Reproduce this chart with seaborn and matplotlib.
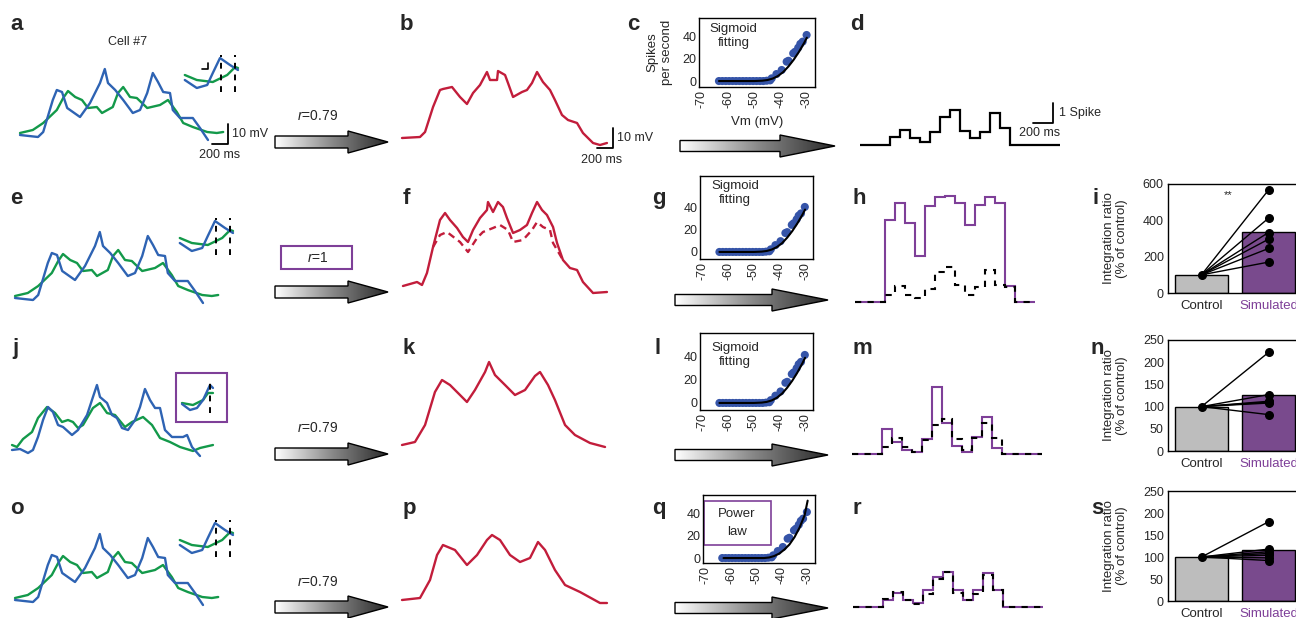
import numpy as np
import matplotlib
matplotlib.use("Agg")
import matplotlib.pyplot as plt
import seaborn as sns
from matplotlib.patches import Polygon, Rectangle
from matplotlib.colors import LinearSegmentedColormap

# ---------------- data ----------------
# recorded traces (panels a, e, o): time (ms), Vm (mV above baseline)
t_blue = [0, 225, 290, 410, 460, 525, 590, 750, 875, 1000, 1060, 1100, 1190, 1290, 1410,
          1500, 1590, 1660, 1725, 1790, 1875, 1910, 2000, 2160, 2250, 2350]
v_blue = [2.5, 1.5, 4, 20, 25, 24, 16, 11.5, 18.5, 28.5, 35.5, 28.5, 25, 20, 13.5,
          15, 23.5, 33.5, 29, 24, 23.5, 15, 11, 11, 6, 0]
t_green = [0, 160, 290, 460, 540, 600, 690, 775, 850, 960, 1025, 1160, 1225, 1290, 1375,
           1460, 1590, 1750, 1850, 1960, 2040, 2160, 2340, 2460, 2540]
v_green = [3.5, 5, 8.5, 15, 21, 24.5, 21.5, 20, 16, 16.5, 13.5, 16.5, 23.5, 26.5, 21.5,
           21, 16, 17.5, 20, 14, 8.5, 6.5, 4, 3.5, 4]
# insets (overlap of the two traces)
t_ins_blue = [2060, 2210, 2340, 2410, 2500, 2625, 2725]
v_ins_blue = [30, 26, 27.5, 33.5, 41, 37.5, 35]
t_ins_green = [2060, 2210, 2410, 2590, 2690, 2725]
v_ins_green = [32.5, 30, 29, 32.5, 36.5, 36]

# panel j traces (shifted green)
t_blue_j = [0, 100, 200, 262, 325, 388, 450, 512, 575, 638, 750, 825, 938, 1012, 1062, 1100,
            1188, 1250, 1312, 1375, 1450, 1538, 1600, 1662, 1725, 1788, 1850, 1912, 2000,
            2138, 2188, 2250, 2350]
v_blue_j = [3, 3.5, 1.5, 3, 9.5, 18, 24.5, 22, 15.5, 14.5, 10.5, 13, 20.5, 29.5, 35.5, 29.5,
            26.5, 20.5, 19, 14, 13, 18, 24.5, 33.5, 28, 24, 24, 13, 9.5, 9.5, 10.5, 4.5, 0]
t_green_j = [0, 62, 138, 250, 325, 438, 538, 625, 700, 762, 825, 888, 1012, 1100, 1188, 1288,
             1412, 1500, 1638, 1750, 1850, 1975, 2100, 2262, 2350, 2512]
v_green_j = [5.5, 4.5, 8.5, 12, 19, 24.5, 21.5, 17, 18, 17, 14, 15.5, 24, 26.5, 21.5, 20.5,
             14.5, 17, 19.5, 15.5, 9, 7, 4.5, 2.5, 4, 5.5]
t_ins_blue_j = [2125, 2225, 2312, 2388, 2475, 2512]
v_ins_blue_j = [26, 23, 24, 28, 35.5, 34]
t_ins_green_j = [2125, 2262, 2388, 2450, 2512]
v_ins_green_j = [26.5, 25.5, 28, 31.5, 31.5]

# combined (summed) traces: b, f, k, p
t_b = [0, 225, 288, 388, 475, 512, 625, 725, 812, 888, 975, 1062, 1100, 1188, 1200, 1288, 1325,
       1388, 1500, 1562, 1625, 1688, 1762, 1850, 1912, 2000, 2075, 2188, 2262, 2388, 2475, 2562]
v_b = [5, 5.5, 8, 20.5, 29, 29.5, 30.5, 25.5, 22, 27.5, 31.5, 38, 34, 34, 38.5, 36.5, 32.5,
       25.5, 28, 29, 32.5, 38, 33, 29, 24, 16.5, 14, 12.5, 7.5, 2.5, 1.5, 2.5]
t_f = [12, 188, 250, 312, 388, 475, 538, 600, 688, 762, 825, 888, 975, 1062, 1075, 1138, 1200,
       1262, 1312, 1388, 1475, 1562, 1625, 1688, 1750, 1812, 1888, 1938, 2012, 2100, 2188, 2262,
       2388, 2562]
v_f = [5, 7, 5.5, 11.5, 24.5, 38, 41.5, 38, 34, 29.5, 27, 33, 39, 43, 47, 42, 47, 44.5, 39,
       31.5, 33, 35.5, 41.5, 47, 43, 40.5, 34.5, 26.5, 18, 14, 13, 7, 1.5, 2]
t_f_dash = [388, 475, 562, 725, 825, 938, 1012, 1138, 1225, 1325, 1388, 1512, 1625, 1688, 1762,
            1850, 1888, 2012]
v_f_dash = [24.5, 30.5, 32, 27, 22, 29, 32, 34, 35.5, 33, 27, 28, 33, 37, 34.5, 33, 26.5, 18]
t_k = [0, 162, 288, 412, 500, 600, 725, 812, 912, 1038, 1088, 1162, 1288, 1412, 1538, 1662,
       1725, 1825, 1912, 2038, 2162, 2350, 2538]
v_k = [2.5, 4, 12.5, 29, 35, 32.5, 27.5, 24, 30, 39, 44, 37.5, 32.5, 27.5, 30, 37, 39, 32.5,
       25, 12.5, 7.5, 3.5, 1.5]
t_p = [0, 225, 350, 438, 512, 662, 812, 938, 1062, 1125, 1225, 1350, 1475, 1600, 1700, 1788,
       1912, 2038, 2225, 2475, 2562]
v_p = [3, 4, 13, 25.5, 30.5, 28, 20.5, 25.5, 33, 35.5, 33, 25.5, 22, 24, 32, 28, 18, 10.5, 7,
       1.5, 1.5]

# input-output curve (c, g, l, q)
vm_pts = [-63.5, -62.2, -60.9, -59.6, -58.3, -57.0, -55.7, -54.4, -53.1, -51.8, -50.5, -49.2,
          -47.9, -46.6, -45.3, -44.0, -43.4, -41.6, -39.6, -37.7, -37.0, -35.2, -34.5, -33.3,
          -32.5, -31.6, -30.1]
rate_pts = [0, 0, 0, 0, 0, 0, 0, 0, 0, 0, 0, 0, 0, 0, 0.3, 0.6, 2.4, 6.2, 9.8, 17.2, 18, 24.6,
            26, 29.6, 33, 35, 40.9]
vm_sig = [-63.5, -50, -47, -45, -43, -41, -39, -37, -35, -33, -31, -30]
rate_sig = [0, 0, 0.3, 0.9, 2.2, 4.5, 8, 13, 19, 26, 34, 38.5]
vm_pow = [-63, -47, -45, -43, -41, -39, -37, -35, -33, -31, -29.8]
rate_pow = [0, 0, 0.5, 1.8, 4, 7.5, 12, 18.5, 27, 38, 51]
vm_ticks = [-70, -60, -50, -40, -30]
rate_ticks = [0, 20, 40]

# spike output per 100-ms bin
rate_d = [0, 0, 0, 0.37, 0.72, 0.32, 0.16, 0.64, 1.37, 1.69, 0.69, 0.32, 0.64, 1.53, 0.81,
          0, 0, 0, 0, 0]
rate_h_sim = [0, 0, 0, 3.95, 4.77, 3.8, 2.2, 4.62, 5.06, 5.1, 4.77, 3.7, 4.67, 5.06, 4.77, 0.76,
              0, 0]
rate_h_ctl = [0, 0, 0, 0.32, 0.76, 0.32, 0.19, 0.64, 1.45, 1.69, 0.81, 0.32, 0.72, 1.53, 0.81,
              0.72, 0, 0]
rate_m_sim = [0, 0, 0, 1.19, 0.6, 0.19, 0.11, 0.71, 3.22, 1.48, 0.39, 0.11, 0.84, 1.77, 0.27,
              0, 0, 0, 0]
rate_m_ctl = [0, 0, 0, 0.35, 0.76, 0.32, 0.11, 0.68, 1.4, 1.68, 0.71, 0.19, 0.76, 1.51, 0.76,
              0, 0, 0, 0]
rate_r_sim = [0, 0, 0, 0.34, 0.68, 0.34, 0.2, 0.82, 1.45, 1.7, 0.82, 0.34, 0.82, 1.64, 0.82,
              0, 0, 0, 0]
rate_r_ctl = [0, 0, 0, 0.37, 0.72, 0.32, 0.16, 0.64, 1.37, 1.69, 0.69, 0.32, 0.64, 1.53, 0.81,
              0, 0, 0, 0]

# integration ratio (% of control)
groups = ["Control", "Simulated"]
ratio_i = [567, 412, 333, 296, 245, 170]
ratio_n = [222, 127, 112, 110, 108, 82]
ratio_s = [180, 118, 112, 108, 104, 98, 92]

# ---------------- style ----------------
sns.set_theme(style="white")
plt.rcParams["font.family"] = ["Liberation Sans", "DejaVu Sans"]
plt.rcParams["axes.unicode_minus"] = False
plt.rcParams["mathtext.fontset"] = "custom"
plt.rcParams["mathtext.it"] = "Liberation Sans:italic"
plt.rcParams["mathtext.rm"] = "Liberation Sans"
plt.rcParams["axes.edgecolor"] = "black"

BLUE = "#2e63b3"
GREEN = "#13994a"
RED = "#c21d3b"
PURPLE = "#7e3f98"
DOT = "#3554a8"
GRAY = "#bdbdbd"

W, H = 1296, 618
fig = plt.figure(figsize=(W / 100, H / 100), dpi=100)

ov = fig.add_axes([0, 0, 1, 1])
ov.set_xlim(0, W)
ov.set_ylim(H, 0)
ov.axis("off")


def px_ax(x0, y0, x1, y1):
    return fig.add_axes([x0 / W, 1 - y1 / H, (x1 - x0) / W, (y1 - y0) / H])


def trace_ax(ox, base, xs=12.5, ys=0.5, left=-15, right=265, up=120, down=20):
    ax = px_ax(ox + left, base - up, ox + right, base + down)
    ax.set_xlim(left * xs, right * xs)
    ax.set_ylim(-down * ys, up * ys)
    ax.axis("off")
    return ax


def line(ax, t, v, color, lw=1.5, ls="-"):
    sns.lineplot(x=t, y=v, ax=ax, color=color, lw=lw, ls=ls, sort=False, estimator=None)


def recorded(ox, base, tb, vb, tg, vg, tib, vib, tig, vig, dash_t, dash_v, lmark=False):
    ax = trace_ax(ox, base)
    line(ax, tg, vg, GREEN, 1.7)
    line(ax, tb, vb, BLUE, 1.7)
    line(ax, tig, vig, GREEN, 1.7)
    line(ax, tib, vib, BLUE, 1.7)
    for tt in dash_t:
        ax.plot([tt, tt], dash_v, color="black", lw=1.4, ls=(0, (3, 3)))
    if lmark:
        ax.plot([2275, 2350, 2350], [35.5, 35.5, 38.5], color="black", lw=1.2)
    return ax


def red_trace(ox, base, t, v):
    ax = trace_ax(ox, base)
    line(ax, t, v, RED, 1.7)
    return ax


def step_ax(ox, base, up=120):
    ax = px_ax(ox - 10, base - up, ox + 260, base + 20)
    ax.set_xlim(-100, 2600)
    ax.set_ylim(-20 / 20.7, up / 20.7)
    ax.axis("off")
    return ax


def edges(vals):
    return np.arange(len(vals) + 1) * 100


def io_ax(x0, y0, x1, y1, ylim, fit_v, fit_r, labels=False):
    ax = px_ax(x0, y0, x1, y1)
    sns.scatterplot(x=vm_pts, y=rate_pts, ax=ax, color=DOT, s=34, edgecolor="none", zorder=2)
    line(ax, fit_v, fit_r, "black", 1.5)
    ax.set_xlim(-71.1, -26.9)
    ax.set_ylim(*ylim)
    ax.set_xticks(vm_ticks)
    ax.set_xticklabels([str(v) for v in vm_ticks], rotation=90)
    ax.set_yticks(rate_ticks)
    ax.tick_params(labelsize=9, length=0, pad=2)
    for s in ax.spines.values():
        s.set_linewidth(1.0)
    if labels:
        ax.set_xlabel("Vm (mV)", fontsize=9.5, labelpad=6)
        ax.set_ylabel("Spikes\nper second", fontsize=9.5, linespacing=1.25)
        ax.yaxis.set_label_coords(-0.225, 0.5)
    else:
        ax.set_xlabel("")
        ax.set_ylabel("")
    return ax


def ratio_ax(y0, y1, vals, ylim, yticks, stars=False):
    ax = px_ax(1168, y0, 1302, y1)
    sns.barplot(x=groups, y=[100, float(np.mean(vals))], hue=groups,
                palette=[GRAY, PURPLE], edgecolor="black", linewidth=1.0, width=0.8,
                legend=False, ax=ax, zorder=1)
    for v in vals:
        ax.plot([0, 1], [100, v], color="black", lw=1.0, zorder=3)
    ax.scatter([1] * len(vals), vals, s=30, color="black", zorder=4)
    ax.scatter([0], [100], s=30, color="black", zorder=4)
    ax.set_xlim(-0.5, 1.5)
    ax.set_ylim(*ylim)
    ax.set_yticks(yticks)
    ax.tick_params(labelsize=9, length=0, pad=3)
    ax.tick_params(axis="x", labelsize=9.5, pad=5)
    ax.get_xticklabels()[1].set_color(PURPLE)
    ax.set_xlabel("")
    ax.set_ylabel("Integration ratio\n(% of control)", fontsize=9.5, linespacing=1.05)
    ax.yaxis.set_label_coords(-0.3, 0.5)
    for s in ax.spines.values():
        s.set_linewidth(1.0)
    if stars:
        ax.text(0.45, 0.9, "**", transform=ax.transAxes, ha="center", va="center", fontsize=8)
    return ax


# ---------------- column 1: recorded traces ----------------
ax_a = recorded(20, 140, t_blue, v_blue, t_green, v_green, t_ins_blue, v_ins_blue,
                t_ins_green, v_ins_green, [2512, 2688], [24, 42.5], lmark=True)
ax_a.plot([2400, 2600, 2600], [-2, -2, 8], color="black", lw=1.3)
ax_a.text(2650, 3, "10 mV", fontsize=9, va="center", ha="left")
ax_a.text(2500, -7.5, "200 ms", fontsize=9, va="center", ha="center")
ov.text(128, 42, "Cell #7", fontsize=9, ha="center", va="center")

recorded(15, 303, t_blue, v_blue, t_green, v_green, t_ins_blue, v_ins_blue,
         t_ins_green, v_ins_green, [2512, 2688], [24, 42.5])
axj = recorded(12, 456, t_blue_j, v_blue_j, t_green_j, v_green_j, t_ins_blue_j, v_ins_blue_j,
               t_ins_green_j, v_ins_green_j, [2475], [21.5, 39])
ov.add_patch(Rectangle((176, 373), 51, 49, fill=False, ec=PURPLE, lw=1.5))
recorded(15, 605, t_blue, v_blue, t_green, v_green, t_ins_blue, v_ins_blue,
         t_ins_green, v_ins_green, [2512, 2688], [24, 42.5])

# ---------------- column 2: summed traces ----------------
ax_b = red_trace(402, 148, t_b, v_b)
ax_b.plot([2437, 2637, 2637], [0, 0, 10], color="black", lw=1.3)
ax_b.text(2687, 5, "10 mV", fontsize=9, va="center", ha="left")
ax_b.text(2500, -6, "200 ms", fontsize=9, va="center", ha="center")
ax_f = red_trace(402, 296, t_f, v_f)
line(ax_f, t_f_dash, v_f_dash, RED, 1.7, ls=(0, (3, 2)))
red_trace(402, 450, t_k, v_k)
red_trace(402, 606, t_p, v_p)

# ---------------- arrows ----------------
cmap = LinearSegmentedColormap.from_list("arr", ["#ffffff", "#8a8a8a", "#2a2a2a"])


def grad_arrow(x0, xh, x1, yc, sh=12, hh=22):
    verts = [(x0, yc - sh / 2), (xh, yc - sh / 2), (xh, yc - hh / 2), (x1, yc),
             (xh, yc + hh / 2), (xh, yc + sh / 2), (x0, yc + sh / 2)]
    clip = Polygon(verts, closed=True, fc="none", ec="none", transform=ov.transData)
    ov.add_patch(clip)
    im = ov.imshow(np.linspace(0, 1, 256).reshape(1, -1), cmap=cmap, aspect="auto",
                   extent=(x0, x1, yc + hh / 2, yc - hh / 2), zorder=1)
    im.set_clip_path(clip)
    ov.add_patch(Polygon(verts, closed=True, fc="none", ec="black", lw=1.0, zorder=2))


for yc in [142, 292, 454, 607]:
    grad_arrow(275, 348, 388, yc)
grad_arrow(680, 780, 835, 146, sh=11, hh=22)
for yc in [300, 455, 608]:
    grad_arrow(675, 772, 828, yc, sh=11, hh=22)
ov.set_xlim(0, W)
ov.set_ylim(H, 0)

for yc in [116, 428, 582]:
    ov.text(318, yc, "$r$=0.79", fontsize=10, ha="center", va="center")
ov.add_patch(Rectangle((281, 246), 71, 23, fill=False, ec=PURPLE, lw=1.5))
ov.text(318, 258, "$r$=1", fontsize=10, ha="center", va="center")

# ---------------- column 3: input-output curves ----------------
ax_c = io_ax(699, 18, 815, 87, (-5.3, 56), vm_sig, rate_sig, labels=True)
ax_c.text(0.3, 0.93, "Sigmoid\nfitting", transform=ax_c.transAxes, fontsize=9.5,
          va="top", ha="center", multialignment="center", linespacing=1.25)
ax_g = io_ax(700, 176, 813, 259, (-6.4, 69), vm_sig, rate_sig)
ax_g.text(0.31, 0.95, "Sigmoid\nfitting", transform=ax_g.transAxes, fontsize=9.5,
          va="top", ha="center", multialignment="center", linespacing=1.25)
ax_l = io_ax(700, 333, 813, 410, (-6, 59.6), vm_sig, rate_sig)
ax_l.text(0.31, 0.88, "Sigmoid\nfitting", transform=ax_l.transAxes, fontsize=9.5,
          va="top", ha="center", multialignment="center", linespacing=1.25)
ax_q = io_ax(703, 495, 815, 563, (-4.4, 56), vm_pow, rate_pow)
ax_q.add_patch(Rectangle((0.01, 0.265), 0.6, 0.645, transform=ax_q.transAxes, fill=False,
                         ec=PURPLE, lw=1.2))
ax_q.text(0.3, 0.59, "Power\nlaw", transform=ax_q.transAxes, fontsize=9.5,
          va="center", ha="center", linespacing=1.6)

# ---------------- column 4: spike output ----------------
ax_d = step_ax(860, 145)
ax_d.stairs(rate_d, edges(rate_d), color="black", lw=1.6)
ax_d.plot([1730, 1930, 1930], [1.05, 1.05, 2.05], color="black", lw=1.3)
ax_d.text(1990, 1.55, "1 Spike", fontsize=9, va="center", ha="left")
ax_d.text(1800, 0.58, "200 ms", fontsize=9, va="center", ha="center")

ax_h = step_ax(855, 302)
ax_h.stairs(rate_h_sim, edges(rate_h_sim), color=PURPLE, lw=1.5)
ax_h.stairs(rate_h_ctl, edges(rate_h_ctl), color="black", lw=1.5, ls=(0, (3, 3)))
ax_m = step_ax(852, 454)
ax_m.stairs(rate_m_sim, edges(rate_m_sim), color=PURPLE, lw=1.5)
ax_m.stairs(rate_m_ctl, edges(rate_m_ctl), color="black", lw=1.5, ls=(0, (3, 3)))
ax_r = step_ax(853, 607)
ax_r.stairs(rate_r_sim, edges(rate_r_sim), color=PURPLE, lw=1.5)
ax_r.stairs(rate_r_ctl, edges(rate_r_ctl), color="black", lw=1.5, ls=(0, (3, 3)))

# ---------------- column 5: integration ratio ----------------
ratio_ax(184, 293, ratio_i, (0, 600), [0, 200, 400, 600], stars=True)
ratio_ax(340, 451, ratio_n, (0, 250), [0, 50, 100, 150, 200, 250])
ratio_ax(491, 601, ratio_s, (0, 250), [0, 50, 100, 150, 200, 250])

# ---------------- panel letters ----------------
letters = [("a", 10, 30), ("b", 400, 30), ("c", 627, 30), ("d", 850, 30),
           ("e", 10, 204), ("f", 403, 204), ("g", 652, 204), ("h", 852, 204), ("i", 1092, 204),
           ("j", 12, 354), ("k", 403, 354), ("l", 655, 354), ("m", 852, 354), ("n", 1091, 354),
           ("o", 10, 514), ("p", 403, 514), ("q", 652, 514), ("r", 852, 514), ("s", 1091, 514)]
for ch, x, y in letters:
    ov.text(x, y, ch, fontsize=16, fontweight="bold", ha="left", va="baseline")

fig.savefig("out.png", dpi=100)
